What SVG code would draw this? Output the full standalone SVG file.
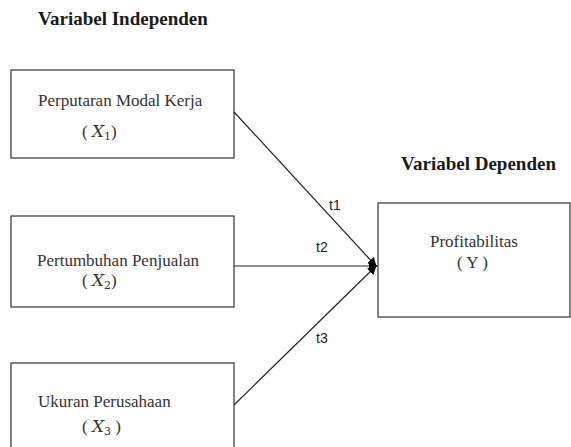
<svg xmlns="http://www.w3.org/2000/svg" width="571" height="447" viewBox="0 0 571 447">
<style>
  .box { fill: #fff; stroke: #333; stroke-width: 1.2; }
  .title { font-family: "Liberation Serif", "Times New Roman", serif; font-weight: bold; font-size: 19px; fill: #1a1a1a; }
  .lbl { font-family: "Liberation Serif", "Times New Roman", serif; font-size: 17px; fill: #333; }
  .math { font-family: "DejaVu Serif", "Liberation Serif", serif; font-style: italic; }
  .sub { font-family: "DejaVu Serif", "Liberation Serif", serif; font-size: 11px; }
  .edge { stroke: #222; stroke-width: 1.2; fill: none; marker-end: url(#arr); }
  .t { font-family: "Liberation Sans", Arial, sans-serif; font-size: 14px; fill: #222; }
</style>
<defs>
  <marker id="arr" viewBox="0 0 10 10" refX="9" refY="5" markerWidth="9" markerHeight="9" markerUnits="userSpaceOnUse" orient="auto">
    <path d="M0,0 L10,5 L0,10 z" fill="#000"/>
  </marker>
</defs>
<rect width="571" height="447" fill="#fff"/>
<text class="title" x="38" y="25">Variabel Independen</text>
<text class="title" x="401" y="170">Variabel Dependen</text>

<g id="x1">
  <rect class="box" x="11" y="70" width="223" height="88"/>
  <text class="lbl" x="38" y="106">Perputaran Modal Kerja</text>
  <text class="lbl" x="82" y="137">( <tspan class="math">X</tspan><tspan class="sub" dy="3">1</tspan><tspan dy="-3">)</tspan></text>
</g>
<g id="x2">
  <rect class="box" x="11" y="216" width="223" height="91"/>
  <text class="lbl" x="37" y="266">Pertumbuhan Penjualan</text>
  <text class="lbl" x="82" y="286">( <tspan class="math">X</tspan><tspan class="sub" dy="3">2</tspan><tspan dy="-3">)</tspan></text>
</g>
<g id="x3">
  <rect class="box" x="11" y="363" width="223" height="90"/>
  <text class="lbl" x="38" y="407">Ukuran Perusahaan</text>
  <text class="lbl" x="82" y="432">( <tspan class="math">X</tspan><tspan class="sub" dy="3">3</tspan><tspan dy="-3"> )</tspan></text>
</g>
<g id="y">
  <rect class="box" x="378" y="203" width="192" height="114"/>
  <text class="lbl" x="430" y="247">Profitabilitas</text>
  <text class="lbl" x="457" y="268">( Y )</text>
</g>

<g id="connectors">
  <line class="edge" x1="234" y1="112" x2="376" y2="266"/>
  <line class="edge" x1="234" y1="266" x2="377" y2="266"/>
  <line class="edge" x1="234" y1="405" x2="376" y2="266"/>
  <text class="t" x="329" y="210">t1</text>
  <text class="t" x="316" y="252">t2</text>
  <text class="t" x="316" y="343">t3</text>
</g>
</svg>
